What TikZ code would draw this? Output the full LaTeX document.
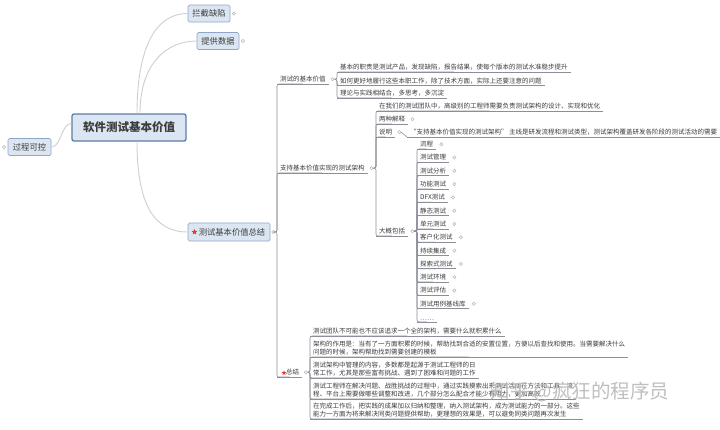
\documentclass[tikz,border=0pt]{standalone}
\usepackage{fontspec}
\setmainfont{Noto Sans CJK SC}
\usetikzlibrary{shapes.geometric}
\definecolor{txt}{HTML}{3C3C3C}
\definecolor{boxfill}{HTML}{DCE6F2}
\definecolor{boxline}{HTML}{8FA6C8}
\definecolor{cenline}{HTML}{5B7BA8}
\definecolor{curvec}{HTML}{CFCFCF}
\definecolor{uline}{HTML}{8A8F98}
\definecolor{markc}{HTML}{B5B5B5}
\definecolor{starc}{HTML}{DC3C3C}
\begin{document}
\begin{tikzpicture}[x=1pt,y=-1pt,
  topic/.style={draw=boxline, fill=boxfill, rounded corners=1.5pt, line width=0.7pt, text=txt,
    font=\fontsize{8.3}{10}\selectfont, inner xsep=0pt, inner ysep=0pt, minimum height=17pt},
  central/.style={draw=cenline, fill=boxfill, rounded corners=2pt, line width=1.3pt, text=txt,
    font=\fontsize{11.5}{13}\selectfont\bfseries, minimum width=114pt, minimum height=27pt, inner sep=0pt},
  sub/.style={anchor=south west, inner xsep=3pt, inner ysep=1.6pt, text=txt,
    font=\fontsize{6.5}{8.5}\selectfont, align=left,
    append after command={(\tikzlastnode.south west) edge[ul] (\tikzlastnode.south east)}},
  ul/.style={draw=uline, line width=0.6pt},
  br/.style={draw=uline, line width=0.6pt, rounded corners=2pt},
  link/.style={draw=curvec, line width=0.9pt},
  dot/.style={circle, draw=markc, fill=white, line width=0.5pt, inner sep=0pt, minimum size=3.2pt},
  redstar/.style={star, star points=5, star point ratio=2.2, fill=starc, inner sep=0pt, minimum size=6pt},
]
\useasboundingbox (0,0) rectangle (720,429);
\fill[white] (0,0) rectangle (720,429);

% top level
\node[central] (cen) at (129,127.5) {软件测试基本价值};
\node[topic, minimum width=42pt] (lj) at (209,13.5) {拦截缺陷};
\node[topic, minimum width=42pt] (tg) at (218,41) {提供数据};
\node[topic, minimum width=43pt] (gk) at (29.5,147) {过程可控};
\node[topic, minimum width=82pt, minimum height=18pt] (T) at (229,232) {\hspace{6pt}测试基本价值总结};
\node[redstar] (tstar) at (194.5,232) {};

\node[dot] (mlj) at ([xshift=3.5pt]lj.east) {};
\node[dot] (mtg) at ([xshift=3.5pt]tg.east) {};
\node[dot] (mgk) at ([xshift=-3.5pt]gk.west) {};
\node[dot] (mT) at ([xshift=3pt]T.east) {};

\draw[link] ([xshift=8pt]cen.north) .. controls +(0,-60) and +(-35,0) .. (lj.west);
\draw[link] ([xshift=11pt]cen.north) .. controls +(0,-50) and +(-30,0) .. (tg.west);
\draw[link] ([xshift=8pt]cen.south) .. controls +(0,60) and +(-35,0) .. (T.west);
\draw[link] ([yshift=4pt]cen.west) .. controls +(-10,0) and +(10,0) .. (gk.east);

% section A
\node[sub] (A) at (277,84) {测试的基本价值};
\node[dot] (mA) at ([xshift=3.5pt]A.east) {};
\node[sub] (A1) at (337,72) {基本的职责是测试产品，发现缺陷，报告结果，使每个版本的测试水准稳步提升};
\node[sub] (A2) at (337,85.5) {如何更好地履行这些本职工作，除了技术方面，实际上还要注意的问题};
\node[sub] (A3) at (337,98) {理论与实践相结合，多思考，多沉淀};
\foreach \c in {A1,A2,A3} \draw[br] (mA.east) -| (\c.south west) -- (\c.south);

% section B
\node[sub] (B) at (277,173) {支持基本价值实现的测试架构};
\node[dot] (mB) at ([xshift=3.5pt]B.east) {};
\node[sub] (B1) at (376,111) {在我们的测试团队中，高级别的工程师需要负责测试架构的设计、实现和优化};
\node[sub] (B2) at (376,124) {两种解释};
\node[dot] (mB2) at ([xshift=4pt]B2.east) {};
\node[sub] (B3) at (376,137) {说明};
\node[dot] (mB3) at ([xshift=4pt]B3.east) {};
\node[sub] (B3a) at (407,137) {“支持基本价值实现的测试架构” 主线是研发流程和测试类型，测试架构覆盖研发各阶段的测试活动的需要};
\draw[ul] (mB3.east) -- (B3a.south west);
\node[sub] (B4) at (376,236) {大概包括};
\node[dot] (mB4) at ([xshift=4pt]B4.east) {};
\foreach \c in {B1,B2,B3,B4} \draw[br] (mB.east) -| (\c.south west) -- (\c.south);

\foreach \t [count=\i] in {流程,测试管理,测试分析,功能测试,DFX测试,静态测试,单元测试,客户化测试,持续集成,探索式测试,测试环境,测试评估,测试用例基线库}{
  \node[sub] (it\i) at (417,135.7+13.3*\i) {\t};
  \node[dot] (itm\i) at ([xshift=5pt]it\i.east) {};
  \draw[br] (mB4.east) -| (it\i.south west) -- (it\i.south);
}
\node[sub] (it14) at (417,321.9) {……};
\draw[br] (mB4.east) -| (it14.south west) -- (it14.south);

% section C
\node[sub] (C) at (277,377) {\hspace{6pt}总结};
\node[redstar, minimum size=5pt] (cstar) at (284,373) {};
\node[dot] (mC) at ([xshift=3.5pt]C.east) {};
\node[sub] (C1) at (310,336) {测试团队不可能也不应该追求一个全的架构，需要什么就积累什么};
\node[sub] (C2) at (310,357) {架构的作用是：当有了一方面积累的时候，帮助找到合适的安置位置，方便以后查找和使用。当需要解决什么\\问题的时候，架构帮助找到需要创建的模板};
\node[sub] (C3) at (310,378) {测试架构中管理的内容，多数都是起源于测试工程师的日\\常工作，尤其是那些富有挑战、遇到了困难和问题的工作};
\node[sub] (C4) at (310,399) {测试工程师在解决问题、战胜挑战的过程中，通过实践摸索出来测试活动在方法和工具、流\\程、平台上需要做哪些调整和改进，几个部分怎么配合才能少有阻力，更加高效};
\node[sub] (C5) at (310,419) {在完成工作后，把实践的成果加以归纳和整理，纳入测试架构，成为测试能力的一部分。这些\\能力一方面为将来解决同类问题提供帮助，更理想的效果是，可以避免同类问题再次发生};
\foreach \c in {C1,C2,C3,C4,C5} \draw[br] (mC.east) -| (\c.south west) -- (\c.south);

% main bracket
\foreach \c in {A,B,C} \draw[br] (mT.east) -| (\c.south west) -- (\c.south);

% watermark
\node[text=black!25, font=\fontsize{19.5}{20}\selectfont, inner sep=0pt] (wm) at (580,392) {知乎 @疯狂的程序员};
\end{tikzpicture}
\end{document}
